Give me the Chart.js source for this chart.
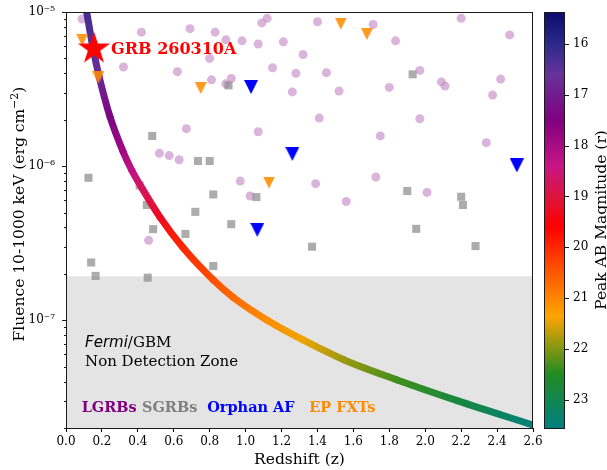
<!DOCTYPE html>
<html>
<head>
<meta charset="utf-8">
<script src="https://cdn.jsdelivr.net/npm/chart.js@4.4.1/dist/chart.umd.min.js"></script>
<style>
  html, body { margin: 0; padding: 0; background: #fff; }
</style>
</head>
<body>
<canvas id="fluence" width="607" height="470"></canvas>
<script>
// long GRBs
const lgrbZ = [0.09, 0.42, 0.69, 0.83, 0.89, 0.98, 1.07, 1.09, 1.12, 1.21,
  0.32, 0.62, 0.80, 1.15, 1.28, 0.81, 0.92, 0.89, 1.26, 0.67,
  1.07, 0.52, 0.575, 0.63, 0.97, 1.025, 0.46, 1.40, 1.71, 1.835,
  2.20, 2.47, 1.32, 1.45, 1.97, 2.09, 2.11, 2.42, 1.52, 1.80,
  2.375, 1.41, 1.97, 1.75, 2.34, 1.39, 1.725, 2.01, 1.56];
const lgrbFluence = [9.0e-6, 7.4e-6, 7.8e-6, 7.4e-6, 6.6e-6, 6.5e-6, 6.2e-6, 8.5e-6, 9.1e-6, 6.4e-6,
  4.4e-6, 4.1e-6, 5.0e-6, 4.35e-6, 4.0e-6, 3.63e-6, 3.7e-6, 3.42e-6, 3.03e-6, 1.75e-6,
  1.67e-6, 1.21e-6, 1.17e-6, 1.10e-6, 8.0e-7, 6.4e-7, 3.3e-7, 8.65e-6, 8.3e-6, 6.5e-6,
  9.1e-6, 7.1e-6, 5.3e-6, 4.04e-6, 4.18e-6, 3.52e-6, 3.31e-6, 3.67e-6, 3.07e-6, 3.24e-6,
  2.89e-6, 2.05e-6, 2.03e-6, 1.57e-6, 1.42e-6, 7.7e-7, 8.5e-7, 6.75e-7, 5.9e-7];

// short GRBs
const sgrbZ = [0.905, 0.48, 0.735, 0.80, 0.125, 0.41, 0.82, 1.06, 0.45, 0.72,
  0.92, 0.485, 0.665, 0.14, 0.165, 0.455, 0.82, 1.93, 1.90, 2.20,
  2.21, 1.95, 1.37, 2.28];
const sgrbFluence = [3.34e-6, 1.57e-6, 1.08e-6, 1.08e-6, 8.4e-7, 7.5e-7, 6.55e-7, 6.3e-7, 5.6e-7, 5.05e-7,
  4.2e-7, 3.9e-7, 3.63e-7, 2.37e-7, 1.94e-7, 1.89e-7, 2.25e-7, 3.94e-6, 6.9e-7, 6.33e-7,
  5.6e-7, 3.92e-7, 3.0e-7, 3.03e-7];

// orphan afterglows (upper limits)
const orphanZ = [1.03, 1.26, 2.51, 1.065];
const orphanFluence = [3.26e-6, 1.20e-6, 1.01e-6, 3.86e-7];

// Einstein Probe fast X-ray transients (upper limits)
const fxtZ = [0.09, 0.18, 0.75, 1.13, 1.53, 1.675];
const fxtFluence = [6.6e-6, 3.76e-6, 3.21e-6, 7.83e-7, 8.4e-6, 7.2e-6];

// GRB 260310A
const grbZ = [0.156];
const grbFluence = [5.78e-6];

// fluence track for the 260310A energetics, with peak r magnitude along it
const trackZ = [0.115, 0.150, 0.184, 0.245, 0.318, 0.366, 0.422, 0.524, 0.652, 0.819,
  0.930, 1.120, 1.320, 1.543, 1.844, 2.178, 2.600];
const trackFluence = [1.0e-5, 5.85e-6, 3.83e-6, 2.09e-6, 1.24e-6, 9.4e-7, 7.23e-7, 4.65e-7, 2.95e-7, 1.83e-7,
  1.41e-7, 1.0e-7, 7.45e-8, 5.57e-8, 4.10e-8, 3.01e-8, 2.09e-8];
const trackMag = [16.2, 16.5, 16.8, 17.4, 17.9, 18.3, 18.7, 19.3, 20.0, 20.4,
  20.7, 21.1, 21.45, 21.85, 22.35, 22.8, 23.5];

// GBM sensitivity floor
const gbmLimit = 1.93e-7;

// axes
const xTicks = [0, 0.2, 0.4, 0.6, 0.8, 1.0, 1.2, 1.4, 1.6, 1.8, 2.0, 2.2, 2.4, 2.6];
const yTicks = [2e-8, 3e-8, 4e-8, 5e-8, 6e-8, 7e-8, 8e-8, 9e-8,
  1e-7, 2e-7, 3e-7, 4e-7, 5e-7, 6e-7, 7e-7, 8e-7, 9e-7,
  1e-6, 2e-6, 3e-6, 4e-6, 5e-6, 6e-6, 7e-6, 8e-6, 9e-6, 1e-5];
const yMajor = [1e-7, 1e-6, 1e-5];
const yMajorLabels = ['10\u207B\u2077', '10\u207B\u2076', '10\u207B\u2075'];
const magTicks = [16, 17, 18, 19, 20, 21, 22, 23];
const magRange = [15.37, 23.56];

// colour map for the magnitude scale
const cmapMag = [15.37, 16.0, 16.6, 17.5, 18.4, 19.0, 19.6, 20.3, 21.35, 22.5, 23.56];
const cmapHex = ['#0c0c6c', '#2b2a8a', '#663399', '#800080', '#c71585', '#dc143c',
  '#ff0000', '#ff4500', '#ffa500', '#228b22', '#008080'];

function hexRgb(h) {
  return [parseInt(h.slice(1, 3), 16), parseInt(h.slice(3, 5), 16), parseInt(h.slice(5, 7), 16)];
}
function magColor(m) {
  m = Math.min(Math.max(m, cmapMag[0]), cmapMag[cmapMag.length - 1]);
  let i = 0;
  while (i < cmapMag.length - 2 && m > cmapMag[i + 1]) i++;
  const t = (m - cmapMag[i]) / (cmapMag[i + 1] - cmapMag[i]);
  const a = hexRgb(cmapHex[i]), b = hexRgb(cmapHex[i + 1]);
  const c = a.map((v, k) => Math.round(v + (b[k] - v) * t));
  return 'rgb(' + c.join(',') + ')';
}

function pts(xs, ys) {
  return xs.map((v, i) => ({ x: v, y: ys[i] }));
}

// marker images
function triangleDown(size, color) {
  const c = document.createElement('canvas');
  c.width = size; c.height = size;
  const g = c.getContext('2d');
  g.fillStyle = color;
  g.beginPath();
  g.moveTo(0, 0); g.lineTo(size, 0); g.lineTo(size / 2, size);
  g.closePath(); g.fill();
  return c;
}
function starMarker(R, color) {
  const s = Math.ceil(R * 2) + 2;
  const c = document.createElement('canvas');
  c.width = s; c.height = s;
  const g = c.getContext('2d');
  const r = R * 0.382;
  g.fillStyle = color;
  g.beginPath();
  for (let k = 0; k < 10; k++) {
    const ang = -Math.PI / 2 + k * Math.PI / 5;
    const rr = k % 2 ? r : R;
    g.lineTo(s / 2 + rr * Math.cos(ang), s / 2 + rr * Math.sin(ang));
  }
  g.closePath(); g.fill();
  return c;
}

// fixed axis boxes, no extra label padding pushed into the plot area
function fixBox(size) {
  return s => {
    if (s.isHorizontal()) s.height = size; else s.width = size;
    s.paddingTop = 0; s.paddingBottom = 0; s.paddingLeft = 0; s.paddingRight = 0;
  };
}

const SERIF = '"DejaVu Serif", serif';
Chart.defaults.font.family = SERIF;
Chart.defaults.font.size = 12;
Chart.defaults.color = '#000';

const decor = {
  id: 'decor',
  afterDatasetsDraw(chart) {
    const { ctx, scales } = chart;
    const x = scales.x, y = scales.y;
    ctx.save();
    ctx.textAlign = 'left';
    ctx.textBaseline = 'middle';

    ctx.font = 'bold 16px ' + SERIF;
    ctx.fillStyle = '#ff0000';
    ctx.fillText('GRB 260310A', x.getPixelForValue(0.251), y.getPixelForValue(5.69e-6));

    // non detection zone note
    ctx.fillStyle = '#000';
    let tx = x.getPixelForValue(0.106);
    const ty = y.getPixelForValue(7.13e-8);
    ctx.font = 'italic 15px "DejaVu Sans", sans-serif';
    ctx.fillText('Fermi', tx, ty);
    tx += ctx.measureText('Fermi').width;
    ctx.font = '15px ' + SERIF;
    ctx.fillText('/GBM', tx, ty);
    ctx.fillText('Non Detection Zone', x.getPixelForValue(0.106), y.getPixelForValue(5.37e-8));

    // population key
    ctx.font = 'bold 14.5px ' + SERIF;
    const ky = y.getPixelForValue(2.69e-8);
    const keys = [['LGRBs', '#800080', 0.087], ['SGRBs', '#808080', 0.423],
      ['Orphan AF', '#0000ff', 0.786], ['EP FXTs', '#ff8c00', 1.354]];
    keys.forEach(k => {
      ctx.fillStyle = k[1];
      ctx.fillText(k[0], x.getPixelForValue(k[2]), ky);
    });
    ctx.restore();
  },
  afterDraw(chart) {
    const { ctx, chartArea: a, scales } = chart;
    const y = scales.y, m = scales.mag;
    ctx.save();

    // frame
    const L = Math.floor(a.left) + 0.5, R = Math.floor(a.right) - 0.5;
    const T = Math.floor(a.top) + 0.5, B = Math.floor(a.bottom) + 0.5;
    ctx.strokeStyle = '#1a1a1a';
    ctx.lineWidth = 1;
    ctx.strokeRect(L, T, R - L, B - T);

    // log ticks on the fluence axis
    ctx.beginPath();
    yTicks.forEach(v => {
      const py = Math.round(y.getPixelForValue(v)) + 0.5;
      const major = yMajor.some(t => Math.abs(t - v) / t < 1e-6);
      ctx.moveTo(L, py);
      ctx.lineTo(L - (major ? 4.5 : 2.5), py);
    });
    ctx.stroke();

    // colour bar
    const top = m.getPixelForValue(magRange[0]);
    const bot = m.getPixelForValue(magRange[1]);
    const cx0 = m.left + 11, cx1 = m.left + 32;
    const grad = ctx.createLinearGradient(0, top, 0, bot);
    cmapMag.forEach((v, i) => {
      grad.addColorStop((v - magRange[0]) / (magRange[1] - magRange[0]), cmapHex[i]);
    });
    ctx.fillStyle = grad;
    ctx.fillRect(cx0, top, cx1 - cx0, bot - top);
    ctx.strokeRect(Math.round(cx0) + 0.5, Math.round(top) + 0.5, Math.round(cx1 - cx0) - 1, Math.round(bot - top));
    ctx.beginPath();
    magTicks.forEach(v => {
      const py = Math.round(m.getPixelForValue(v)) + 0.5;
      ctx.moveTo(cx1 - 0.5, py);
      ctx.lineTo(cx1 + 4, py);
    });
    ctx.stroke();

    // axis titles
    ctx.fillStyle = '#000';
    ctx.textBaseline = 'alphabetic';
    ctx.textAlign = 'center';
    ctx.font = '15.5px ' + SERIF;
    ctx.fillText('Redshift (z)', (a.left + a.right) / 2, 464);

    ctx.save();
    ctx.translate(606, (a.top + a.bottom) / 2);
    ctx.rotate(-Math.PI / 2);
    ctx.fillText('Peak AB Magnitude (r)', 0, 0);
    ctx.restore();

    ctx.save();
    ctx.translate(24, 214);
    ctx.rotate(-Math.PI / 2);
    ctx.textAlign = 'left';
    const p1 = 'Fluence 10-1000 keV (erg cm', p2 = '\u22122', p3 = ')';
    ctx.font = '15.5px ' + SERIF;
    const w1 = ctx.measureText(p1).width, w3 = ctx.measureText(p3).width;
    ctx.font = '11px ' + SERIF;
    const w2 = ctx.measureText(p2).width;
    const sx = -(w1 + w2 + w3) / 2;
    ctx.font = '15.5px ' + SERIF;
    ctx.fillText(p1, sx, 0);
    ctx.font = '11px ' + SERIF;
    ctx.fillText(p2, sx + w1, -6.5);
    ctx.font = '15.5px ' + SERIF;
    ctx.fillText(p3, sx + w1 + w2, 0);
    ctx.restore();

    ctx.restore();
  }
};

new Chart(document.getElementById('fluence'), {
  type: 'scatter',
  data: {
    datasets: [{
      label: 'GRB 260310A',
      data: pts(grbZ, grbFluence),
      pointStyle: starMarker(17, '#ff0000'),
      pointRadius: 8,
      order: 0
    }, {
      label: 'EP FXTs',
      data: pts(fxtZ, fxtFluence),
      pointStyle: triangleDown(12, 'rgba(255,140,0,0.88)'),
      pointRadius: 6,
      order: 1
    }, {
      label: 'Orphan AF',
      data: pts(orphanZ, orphanFluence),
      pointStyle: triangleDown(14, '#0000ff'),
      pointRadius: 7,
      order: 2
    }, {
      type: 'line',
      label: 'track',
      data: pts(trackZ, trackFluence),
      showLine: true,
      pointRadius: 0,
      borderWidth: 7,
      borderCapStyle: 'round',
      borderJoinStyle: 'round',
      cubicInterpolationMode: 'monotone',
      fill: false,
      clip: 0,
      segment: {
        borderColor: c => {
          const g = c.chart.ctx.createLinearGradient(c.p0.x, c.p0.y, c.p1.x, c.p1.y);
          g.addColorStop(0, magColor(trackMag[c.p0DataIndex]));
          g.addColorStop(1, magColor(trackMag[c.p1DataIndex]));
          return g;
        },
        borderDashOffset: c => c.p0DataIndex
      },
      order: 3
    }, {
      label: 'SGRBs',
      data: pts(sgrbZ, sgrbFluence),
      pointStyle: 'rect',
      pointRadius: 5.7,
      pointBorderWidth: 0,
      pointBackgroundColor: 'rgba(140,140,140,0.72)',
      order: 4
    }, {
      label: 'LGRBs',
      data: pts(lgrbZ, lgrbFluence),
      pointStyle: 'circle',
      pointRadius: 4.5,
      pointBorderWidth: 0,
      pointBackgroundColor: 'rgba(200,145,200,0.68)',
      order: 5
    }, {
      type: 'line',
      label: 'GBM limit',
      data: [{ x: 0, y: gbmLimit }, { x: 2.6, y: gbmLimit }],
      showLine: true,
      borderWidth: 0,
      pointRadius: 0,
      backgroundColor: '#e4e4e4',
      fill: 'start',
      clip: 0,
      order: 6
    }]
  },
  options: {
    responsive: false,
    devicePixelRatio: 1,
    animation: false,
    events: [],
    layout: { padding: { top: 12, left: 0, right: 0, bottom: 0 } },
    plugins: { legend: { display: false }, tooltip: { enabled: false } },
    scales: {
      x: {
        type: 'linear',
        min: 0,
        max: 2.6,
        afterFit: fixBox(42),
        afterBuildTicks: s => { s.ticks = xTicks.map(v => ({ value: v })); },
        grid: { drawOnChartArea: false, drawTicks: true, tickLength: 4, color: '#000' },
        border: { display: false },
        ticks: { autoSkip: false, maxRotation: 0, padding: 3, callback: v => v.toFixed(1) }
      },
      y: {
        type: 'logarithmic',
        min: 2e-8,
        max: 1e-5,
        afterFit: fixBox(66),
        afterBuildTicks: s => { s.ticks = yTicks.map(v => ({ value: v })); },
        grid: { display: false, drawTicks: false },
        border: { display: false },
        ticks: {
          autoSkip: false,
          padding: 11,
          callback: v => {
            const i = yMajor.findIndex(t => Math.abs(t - v) / t < 1e-6);
            return i < 0 ? '' : yMajorLabels[i];
          }
        }
      },
      mag: {
        type: 'linear',
        position: 'right',
        reverse: true,
        min: magRange[0],
        max: magRange[1],
        afterFit: fixBox(74),
        afterBuildTicks: s => { s.ticks = magTicks.map(v => ({ value: v })); },
        grid: { display: false, drawTicks: false },
        border: { display: false },
        ticks: { autoSkip: false, padding: 40 }
      }
    }
  },
  plugins: [decor]
});
</script>
</body>
</html>
